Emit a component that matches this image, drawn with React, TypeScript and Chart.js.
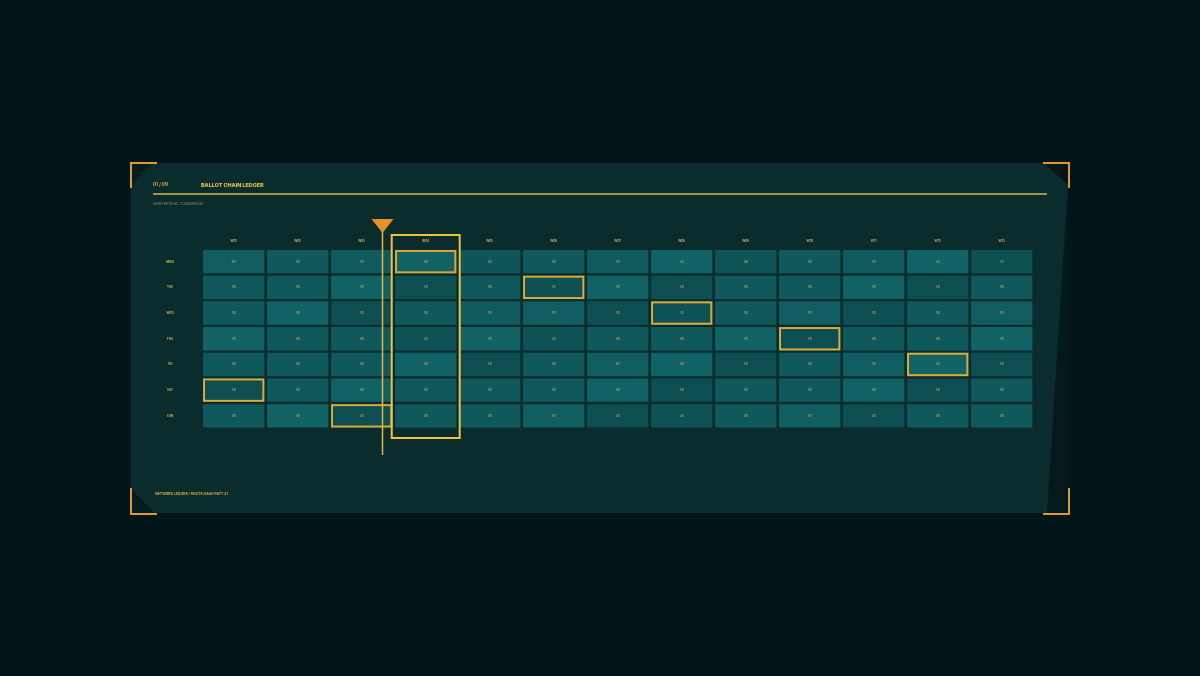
import React, { useEffect, useRef } from "react";
import { Chart, registerables } from "chart.js";

Chart.register(...registerables);

// ---- data ----
const columns = ["W01", "W02", "W03", "W04", "W05", "W06", "W07", "W08", "W09", "W10", "W11", "W12", "W13"];
const rows = ["MON", "TUE", "WED", "THU", "FRI", "SAT", "SUN"];

const mon = [65, 50, 55, 80, 45, 50, 55, 85, 40, 50, 55, 85, 25];
const tue = [50, 50, 80, 20, 50, 25, 80, 20, 50, 50, 80, 20, 50];
const wed = [50, 80, 20, 50, 55, 70, 20, 35, 50, 70, 20, 50, 65];
const thu = [85, 50, 50, 35, 85, 35, 50, 50, 85, 20, 50, 50, 85];
const fri = [50, 50, 50, 80, 20, 50, 65, 80, 20, 50, 70, 85, 20];
const sat = [20, 50, 80, 50, 50, 50, 80, 20, 50, 50, 80, 20, 50];
const sun = [50, 80, 20, 50, 50, 70, 20, 35, 50, 70, 20, 50, 50];
const values = [mon, tue, wed, thu, fri, sat, sun];

// flagged cells: [rowIndex, columnIndex]
const flaggedRows = [0, 1, 2, 3, 4, 5, 6];
const flaggedCols = [3, 5, 7, 9, 11, 0, 2];
const focusColumn = 3;
const markerPosition = 2.32;

const pageLabel = "01 / 09";
const title = "BALLOT CHAIN LEDGER";
const subtitle = "HASH RATE HL / CONSENSUS";
const footer = "NETWORK LEDGER / ROUTE HASH PATT #1";

function cellColor(v: number): string {
  const t = Math.max(0, Math.min(1, v / 100));
  const a = [11, 72, 74];
  const b = [18, 104, 107];
  const c = a.map((x, i) => Math.round(x + (b[i] - x) * t));
  return `rgb(${c[0]},${c[1]},${c[2]})`;
}

const W = 1200;
const H = 676;

const decorPlugin = {
  id: "decor",
  beforeDraw(chart: any) {
    const ctx = chart.ctx as CanvasRenderingContext2D;
    ctx.save();
    ctx.fillStyle = "#021519";
    ctx.fillRect(0, 0, W, H);
    // faint backing strip to the right of the slanted edge
    ctx.fillStyle = "#04191c";
    ctx.beginPath();
    ctx.moveTo(1047, 185);
    ctx.lineTo(1068, 185);
    ctx.lineTo(1068, 513);
    ctx.lineTo(1047, 513);
    ctx.closePath();
    ctx.fill();
    // panel
    ctx.fillStyle = "#0a2c2d";
    ctx.beginPath();
    ctx.moveTo(131, 163);
    ctx.lineTo(1044, 163);
    ctx.lineTo(1068, 185);
    ctx.lineTo(1047, 513);
    ctx.lineTo(131, 513);
    ctx.closePath();
    ctx.fill();
    // dark corner wedges
    ctx.fillStyle = "#051c1f";
    ctx.beginPath();
    ctx.moveTo(131, 163);
    ctx.lineTo(153, 163);
    ctx.lineTo(131, 185);
    ctx.closePath();
    ctx.fill();
    ctx.beginPath();
    ctx.moveTo(131, 489);
    ctx.lineTo(155, 513);
    ctx.lineTo(131, 513);
    ctx.closePath();
    ctx.fill();
    // corner brackets
    ctx.strokeStyle = "#e0992e";
    ctx.lineWidth = 2;
    const br = (pts: number[][]) => {
      ctx.beginPath();
      ctx.moveTo(pts[0][0], pts[0][1]);
      for (let i = 1; i < pts.length; i++) ctx.lineTo(pts[i][0], pts[i][1]);
      ctx.stroke();
    };
    br([[131, 188], [131, 163], [157, 163]]);
    br([[1043, 163], [1069, 163], [1069, 188]]);
    br([[131, 488], [131, 514], [157, 514]]);
    br([[1043, 514], [1069, 514], [1069, 488]]);
    // header
    ctx.textBaseline = "middle";
    ctx.textAlign = "left";
    ctx.fillStyle = "#d9b24a";
    ctx.font = "bold 4.5px Inter, 'DejaVu Sans', sans-serif";
    ctx.fillText(pageLabel, 153, 185);
    ctx.fillStyle = "#e8c04a";
    ctx.font = "800 5.4px Inter, 'DejaVu Sans', sans-serif";
    ctx.fillText(title, 201, 185);
    ctx.strokeStyle = "#d6b650";
    ctx.lineWidth = 1.5;
    ctx.beginPath();
    ctx.moveTo(153, 194);
    ctx.lineTo(1047, 194);
    ctx.stroke();
    ctx.fillStyle = "#a89a5a";
    ctx.font = "3.5px Inter, 'DejaVu Sans', sans-serif";
    ctx.fillText(subtitle, 153, 204);
    ctx.fillStyle = "#c9a84a";
    ctx.font = "bold 3.5px Inter, 'DejaVu Sans', sans-serif";
    ctx.fillText(footer, 155, 494);
    ctx.restore();
  },
  afterDatasetsDraw(chart: any) {
    const ctx = chart.ctx as CanvasRenderingContext2D;
    const xs = chart.scales.x;
    const ys = chart.scales.y;
    const bw = xs.width / columns.length * 0.958;
    const cellTop = (r: number) => ys.getPixelForValue(r + 0.045);
    const cellBottom = (r: number) => ys.getPixelForValue(r + 0.955);
    ctx.save();
    ctx.textAlign = "center";
    ctx.textBaseline = "middle";
    // cell values
    ctx.fillStyle = "#a8984f";
    ctx.font = "bold 3px Inter, 'DejaVu Sans', sans-serif";
    values.forEach((row, r) => {
      row.forEach((v, c) => {
        ctx.fillText(String(v), xs.getPixelForValue(c), ys.getPixelForValue(r + 0.5));
      });
    });
    // column labels
    ctx.fillStyle = "#c9a84a";
    ctx.font = "bold 3px Inter, 'DejaVu Sans', sans-serif";
    columns.forEach((lab, c) => ctx.fillText(lab, xs.getPixelForValue(c), 241));
    // row labels
    rows.forEach((lab, r) => ctx.fillText(lab, 170, ys.getPixelForValue(r + 0.5)));
    // flagged cells
    ctx.strokeStyle = "#d9a93a";
    ctx.lineWidth = 2;
    flaggedRows.forEach((r, i) => {
      const c = flaggedCols[i];
      const cx = xs.getPixelForValue(c);
      const t = cellTop(r);
      const b = cellBottom(r);
      ctx.strokeRect(cx - bw / 2 + 1, t + 1, bw - 2, b - t - 2);
    });
    // focus column box
    const fx = xs.getPixelForValue(focusColumn);
    const half = xs.width / columns.length / 2 + 2;
    ctx.strokeStyle = "#efc041";
    ctx.lineWidth = 2;
    ctx.strokeRect(fx - half, 235, half * 2, 203);
    // marker line
    const mx = Math.round(xs.getPixelForValue(markerPosition)) + 0.5;
    ctx.strokeStyle = "#e8b443";
    ctx.lineWidth = 1.5;
    ctx.beginPath();
    ctx.moveTo(mx, 228);
    ctx.lineTo(mx, 455);
    ctx.stroke();
    ctx.fillStyle = "#e8902c";
    ctx.beginPath();
    ctx.moveTo(mx - 11, 219);
    ctx.lineTo(mx + 11, 219);
    ctx.lineTo(mx, 233);
    ctx.closePath();
    ctx.fill();
    ctx.restore();
  },
};

export default function App() {
  const ref = useRef<HTMLCanvasElement | null>(null);
  useEffect(() => {
    if (!ref.current) return;
    const chart = new Chart(ref.current, {
      type: "bar",
      data: {
        labels: columns,
        datasets: rows.map((name, r) => ({
          label: name,
          data: columns.map(() => [r + 0.045, r + 0.955]),
          backgroundColor: values[r].map(cellColor),
          borderWidth: 0,
          grouped: false,
          barPercentage: 0.958,
          categoryPercentage: 1,
        })) as any,
      },
      options: {
        responsive: false,
        animation: false,
        devicePixelRatio: 1,
        layout: { padding: { left: 201.7, right: W - 1033.7, top: 248.8, bottom: H - 428.7 } },
        plugins: { legend: { display: false }, tooltip: { enabled: false }, title: { display: false } },
        scales: {
          x: { type: "category", display: false, offset: true },
          y: { type: "linear", min: 0, max: 7, reverse: true, display: false },
        },
      },
      plugins: [decorPlugin],
    });
    return () => chart.destroy();
  }, []);
  return (
    <div style={{ position: "fixed", left: 0, top: 0, width: W, height: H, background: "#021519" }}>
      <canvas ref={ref} width={W} height={H} style={{ display: "block", width: W, height: H }} />
    </div>
  );
}
